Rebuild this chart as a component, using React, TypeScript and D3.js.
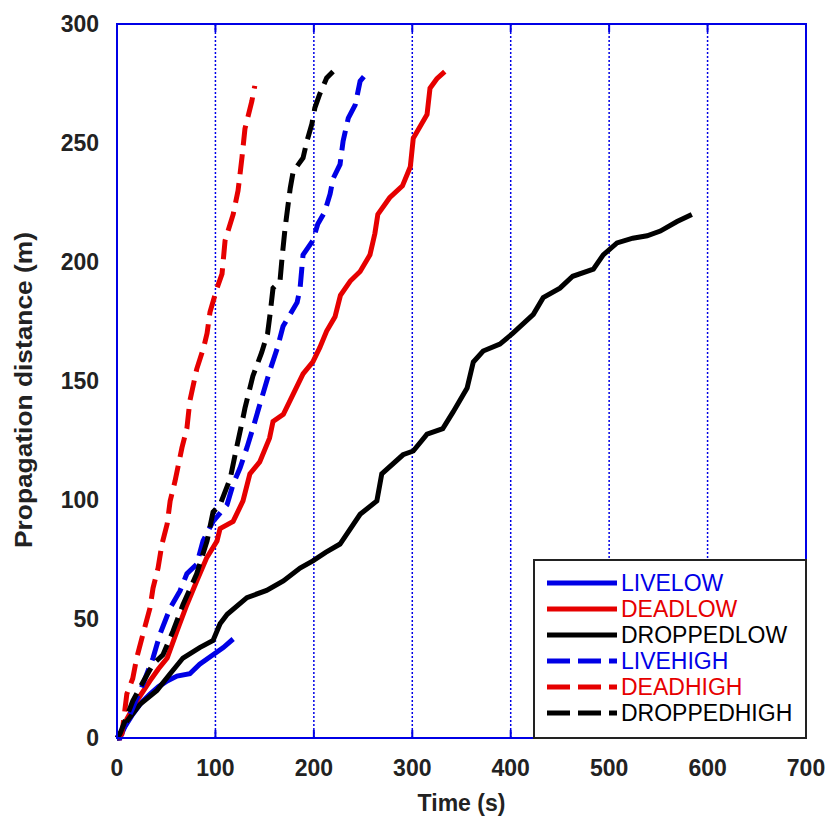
import React from "react";
import * as d3 from "d3";

const width = 828;
const height = 824;
const plot = { left: 117, right: 806, top: 24, bottom: 738 };

const xTicks = [0, 100, 200, 300, 400, 500, 600, 700];
const yTicks = [0, 50, 100, 150, 200, 250, 300];

// [time (s), distance (m)]
const liveLow = [[0,0],[3,1.7],[10,6],[16,10],[25,15],[33.5,18.5],[42,21.5],[51,24],[61,26],[74,27],[84,31],[97.6,35],[108,38],[118,41.6]];
const deadLow = [[0,0],[3,0],[10,8],[20,15.5],[33.5,24],[42,29],[51,33.6],[61,45],[71,56],[81,66],[91,75.6],[101.6,82.8],[104.7,88],[118,91],[128,99.6],[135,111],[145,116],[155,126],[158.5,133],[169,136],[179,144.5],[189,153],[199,158],[206,164],[213,171],[221.5,177],[227,186],[237,192],[247,196],[257,203],[262,212],[265,220],[277,227],[290,232],[298,240],[301,252],[315,262],[318,273],[325,277],[333,280]];
const droppedLow = [[0,0],[1,0],[10,7],[23,14],[40.6,20],[54,27],[67,33.6],[84,38],[97.6,41],[104.7,48],[112,52],[132,59],[152,62],[169,66],[186,71.4],[199,74.4],[212,78],[226.6,81.5],[247,94],[264,99.6],[269,111],[290.6,119],[301,120.6],[315,127.7],[331,130],[341.5,137],[355.7,147],[362,158],[372,162.6],[389,165.5],[402,170],[423,178],[433,185],[450,189],[463,194],[484,197],[494,203],[508,208],[524,210],[538.6,211],[552,213],[569,217],[584,220]];
const liveHigh = [[0,0],[3,0],[16,12.6],[26.4,22.7],[36.6,33.6],[43.7,43.7],[54,54.6],[64,61.8],[71,69],[81,73],[87.4,82.8],[97.6,91],[111.8,98],[118,106.7],[125,113.4],[132,122],[138,130],[145,140],[155,154],[163,164],[168.7,173],[183,183],[186,189],[189,203],[199,209],[204,216],[211,221],[216.5,228.6],[219.5,235],[226.6,241],[229.7,250.8],[235,260.5],[242,266],[247,276],[255,280]];
const deadHigh = [[0,0],[5,1.7],[10,18.5],[16,25],[20,33.6],[26.4,43.7],[33.5,54.6],[36.6,63],[41.7,71.4],[45.7,81.5],[51,90],[54,99.6],[59,108],[66,122],[71,130],[74,141.6],[81,155],[88,164],[91.5,170],[94.5,179],[101.6,189],[106.7,195],[109.8,209],[118,220],[123,230],[127,244],[130,256],[137,267.6],[140,274]];
const droppedHigh = [[0,0],[3,1.7],[16,15.5],[23,21],[36.6,31],[46.7,35],[57,45],[67,56],[81,69],[91.5,82.8],[97.6,95],[104.7,98],[115,109],[122,123],[128,134.5],[130,138.6],[138,152],[147,162],[153,170],[155.5,178],[158.5,189],[165.6,192],[167.7,201.7],[170.7,214],[173.8,224],[176,231],[179,238],[189,243.7],[193,250.8],[198,258],[201,264.7],[206,270.6],[213,277.3],[219.5,280]];

const blue = "#0000e6";
const red = "#e60000";
const black = "#000000";

const series = [
  { name: "LIVELOW", data: liveLow, color: blue, dashed: false },
  { name: "DEADLOW", data: deadLow, color: red, dashed: false },
  { name: "DROPPEDLOW", data: droppedLow, color: black, dashed: false },
  { name: "LIVEHIGH", data: liveHigh, color: blue, dashed: true },
  { name: "DEADHIGH", data: deadHigh, color: red, dashed: true },
  { name: "DROPPEDHIGH", data: droppedHigh, color: black, dashed: true },
];

const tickFont = "'Liberation Sans', Arial, sans-serif";

export default function App() {
  const x = d3.scaleLinear().domain([0, 700]).range([plot.left, plot.right]);
  const y = d3.scaleLinear().domain([0, 300]).range([plot.bottom, plot.top]);
  const line = d3.line<number[]>().x(d => x(d[0])).y(d => y(d[1]));

  const leg = { x: 534, y: 560, w: 272, h: 178, row: 26 };

  return (
    <svg width={width} height={height} style={{ position: "absolute", left: 0, top: 0, background: "#fff" }}>
      {/* vertical dotted grid */}
      {xTicks.slice(1, -1).map(t => (
        <g key={t}>
          <line x1={x(t)} x2={x(t)} y1={plot.top} y2={plot.bottom} stroke={blue} strokeWidth={1.5} strokeDasharray="2,2" />
          <line x1={x(t)} x2={x(t)} y1={plot.top} y2={plot.top + 8} stroke={blue} strokeWidth={2} />
          <line x1={x(t)} x2={x(t)} y1={plot.bottom - 8} y2={plot.bottom} stroke={blue} strokeWidth={2} />
        </g>
      ))}

      {series.map(s => (
        <path key={s.name} d={line(s.data) || ""} fill="none" stroke={s.color} strokeWidth={5}
          strokeDasharray={s.dashed ? "20,9" : undefined} strokeLinejoin="miter" />
      ))}

      <rect x={plot.left} y={plot.top} width={plot.right - plot.left} height={plot.bottom - plot.top}
        fill="none" stroke={blue} strokeWidth={2} />

      {/* tick labels */}
      <g fontFamily={tickFont} fontWeight="bold" fontSize={23} fill="#222">
        {xTicks.map(t => (
          <text key={t} x={x(t)} y={768} textAnchor="middle" dominantBaseline="central">{t}</text>
        ))}
        {yTicks.map(t => (
          <text key={t} x={99} y={y(t)} textAnchor="end" dominantBaseline="central">{t}</text>
        ))}
      </g>

      <text x={(plot.left + plot.right) / 2} y={803} textAnchor="middle" dominantBaseline="central"
        fontFamily={tickFont} fontWeight="bold" fontSize={23} fill="#222">Time (s)</text>
      <text transform={`translate(24, 390) rotate(-90)`} textAnchor="middle" dominantBaseline="central"
        fontFamily={tickFont} fontWeight="bold" fontSize={23} fill="#222"
        textLength={316} lengthAdjust="spacingAndGlyphs">Propagation distance (m)</text>

      {/* legend */}
      <rect x={leg.x} y={leg.y} width={leg.w} height={leg.h} fill="#fff" stroke="#222" strokeWidth={2} />
      {series.map((s, i) => {
        const yy = leg.y + 23 + i * leg.row;
        return (
          <g key={s.name}>
            <line x1={547} x2={617} y1={yy} y2={yy} stroke={s.color} strokeWidth={5}
              strokeDasharray={s.dashed ? "23,8" : undefined} />
            <text x={621} y={yy} dominantBaseline="central" fontFamily={tickFont} fontSize={23}
              fill={s.color}>{s.name}</text>
          </g>
        );
      })}
    </svg>
  );
}
